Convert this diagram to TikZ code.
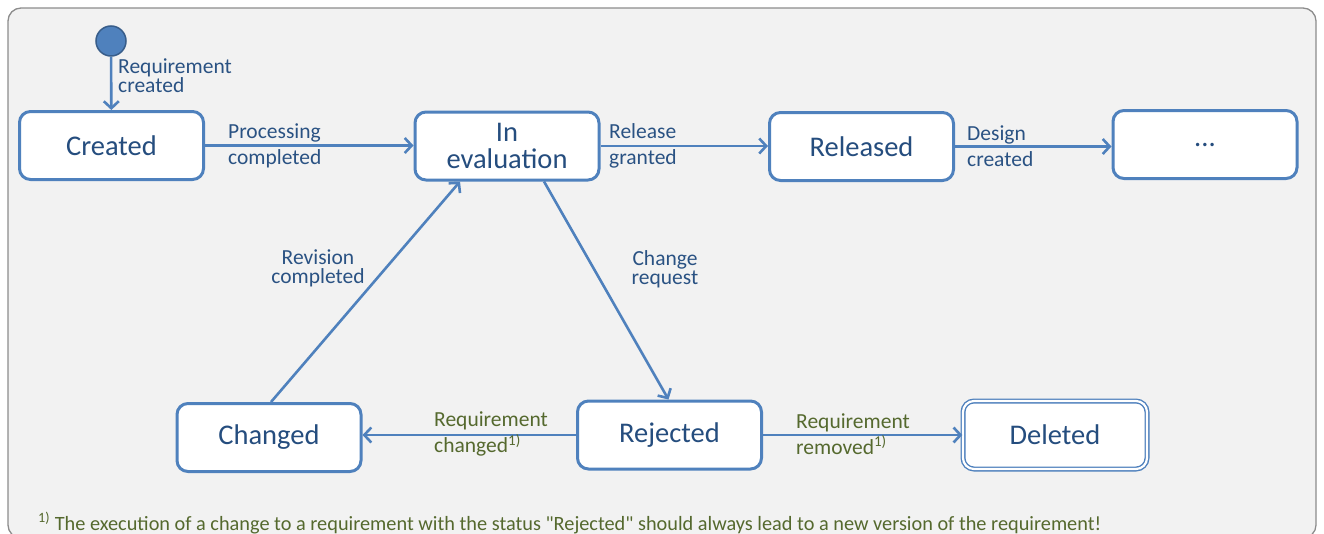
\documentclass[tikz,border=0pt]{standalone}
\usepackage{fontspec}
\setmainfont{Carlito}[Ligatures=TeXOff]
\usetikzlibrary{arrows.meta}
\definecolor{boxline}{HTML}{4F81BD}
\definecolor{boxtext}{HTML}{254D7E}
\definecolor{lblblue}{HTML}{2A5283}
\definecolor{lblgreen}{HTML}{55692E}
\definecolor{panel}{HTML}{F2F2F2}
\definecolor{frame}{HTML}{8C8C8C}
\definecolor{initfill}{HTML}{4F81BD}
\definecolor{initline}{HTML}{385D8A}
\tikzset{
  state/.style={draw=boxline, line width=3pt, fill=white, rounded corners=11pt,
    minimum width=184pt, minimum height=68pt, inner sep=0pt, align=center,
    text=boxtext, font=\fontsize{28.5}{27}\selectfont},
  final/.style={state, line width=1.4pt, double=white, double distance=2.2pt},
  trans/.style={draw=boxline, line width=2.6pt,
    -{Straight Barb[length=7pt,width=15pt]}},
  lbl/.style={text=lblblue, font=\fontsize{21.5}{19}\selectfont, align=left, inner sep=0pt},
  sidelbl/.style={lbl, font=\fontsize{21.5}{26}\selectfont},
  greenlbl/.style={sidelbl, text=lblgreen},
}
\begin{document}
\begin{tikzpicture}[x=1pt, y=-1pt]
\useasboundingbox (0,0) rectangle (1324,533);
\clip (0,0) rectangle (1324,533);
% panel
\draw[frame, line width=1.3pt, fill=panel, rounded corners=13pt] (8,8) rectangle (1316,538);

% states
\node[circle, draw=initline, fill=initfill, line width=1.5pt, minimum size=30pt, inner sep=0pt] (init) at (111,41) {};
\node[state] (created)  at (111.5,145.5) {Created};
\node[state] (ineval)   at (507,146) {In\\evaluation};
\node[state] (released) at (861.5,146.5) {Released};
\node[state] (more)     at (1205,144.5) {...};
\node[state] (changed)  at (269,437.5) {Changed};
\node[state] (rejected) at (669.5,435) {Rejected};
\node[final] (deleted)  at (1055,435) {Deleted};

% transitions
\draw[trans] (init) -- (created);
\draw[trans] (created) -- (created -| ineval.west);
\draw[trans] (ineval) -- (ineval -| released.west);
\draw[trans] (released) -- (released -| more.west);
\draw[trans] ([xshift=37pt]ineval.south) -- ([xshift=-1pt]rejected.north);
\draw[trans] ([xshift=2pt]changed.north) -- ([xshift=-47pt]ineval.south);
\draw[trans] (rejected) -- (rejected -| changed.east);
\draw[trans] (rejected) -- (deleted);

% transition labels
\node[lbl, anchor=west] (lreq) at (118,76) {Requirement\\created};
\node[sidelbl, anchor=west] (lproc) at (228,146) {Processing\\completed};
\node[sidelbl, anchor=west] (lrel) at (609,146) {Release\\granted};
\node[sidelbl, anchor=west] (ldes) at (967,146) {Design\\created};
\node[lbl, align=center] (lchg) at (665,269) {Change\\request};
\node[lbl, align=center] (lrev) at (318,268) {Revision\\completed};
\node[greenlbl, anchor=west] (lchanged) at (434,434) {Requirement\\changed\textsuperscript{1)}};
\node[greenlbl, anchor=west] (lremoved) at (796,434) {Requirement\\removed\textsuperscript{1)}};

% footnote
\node[anchor=base west, inner sep=0pt, text=lblgreen, font=\fontsize{20.3}{22}\selectfont] (note) at (38,530)
  {\textsuperscript{1)}\ The execution of a change to a requirement with the status "Rejected" should always lead to a new version of the requirement!};
\end{tikzpicture}
\end{document}
